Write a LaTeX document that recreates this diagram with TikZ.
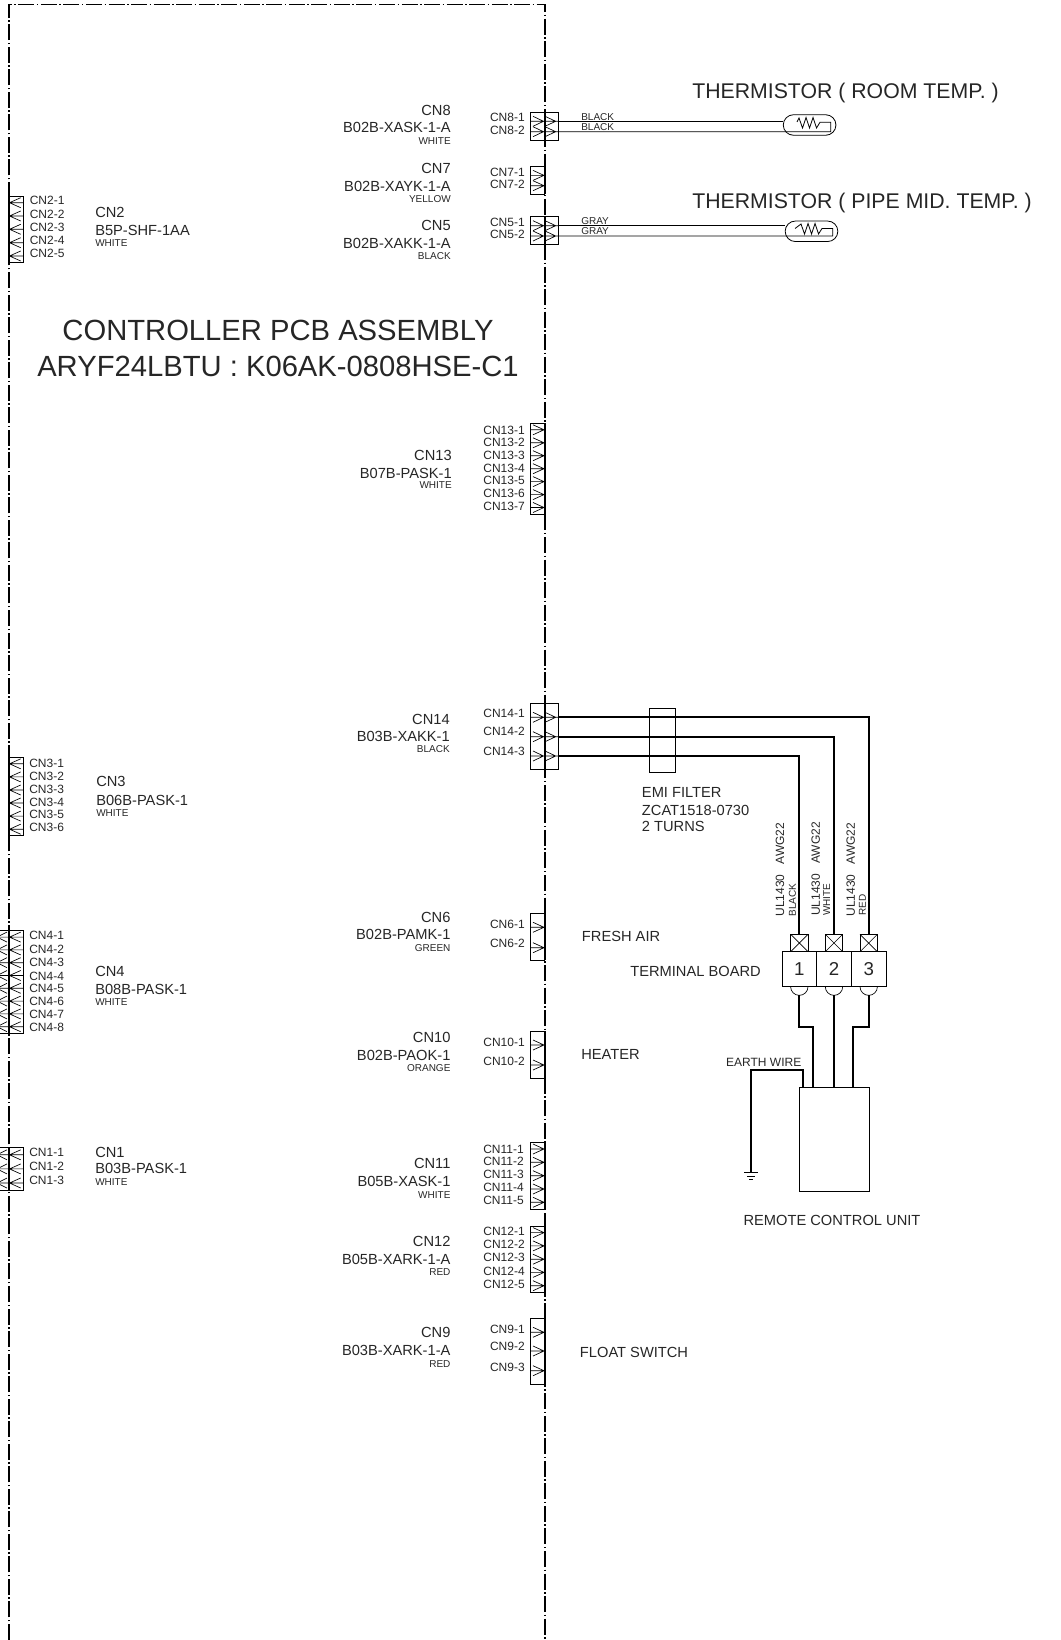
\documentclass[tikz,border=0pt]{standalone}
\usepackage{fontspec}
\setmainfont{Liberation Sans}

\begin{document}
\begin{tikzpicture}[
    x=0.75pt,y=-0.75pt,
    border/.style={line width=1.4pt, dash pattern=on 12pt off 1.9pt on 1.1pt off 1.9pt},
    solidborder/.style={line width=1.4pt},
    pin/.style={line width=0.5pt},
    wire/.style={line width=1.3pt},
    thinwire/.style={line width=0.6pt},
    bignote/.style={inner sep=0, text=black!85, font=\fontsize{21.9}{26}\selectfont},
    sensor/.style={inner sep=0, text=black!85, anchor=west, font=\fontsize{15.95}{19}\selectfont},
    lab/.style={inner sep=0, text=black!85, font=\fontsize{11}{13}\selectfont},
    pinlab/.style={inner sep=0, text=black!85, font=\fontsize{9}{11}\selectfont},
    tinylab/.style={inner sep=0, text=black!85, font=\fontsize{7.5}{9}\selectfont},
    filterbox/.style={draw, line width=0.5pt, inner sep=0, outer sep=0, minimum width=19.8pt, minimum height=47.8pt},
    termx/.style={draw, line width=0.5pt, inner sep=0, outer sep=0, minimum size=13pt},
    termcell/.style={draw, line width=0.5pt, inner sep=0, outer sep=0, text=black!85, minimum width=26pt, minimum height=26.2pt, font=\fontsize{14}{16}\selectfont},
    remotebox/.style={draw, line width=0.5pt, inner sep=0, outer sep=0, minimum width=52.3pt, minimum height=78.3pt},
    bead/.style={draw, line width=0.6pt, inner sep=0, outer sep=0, rounded corners=7.7pt, minimum width=39.5pt, minimum height=15.4pt}
    ]
    \clip (0, 0) rectangle (1060, 1640);
    % board outline
    \draw[border] (9, 1640) -- (9, 4.5) -- (545, 4.5) -- (545, 1640);
    \foreach \a/\b in {196/262.7, 757.3/835.7, 930.7/1033.3, 1147.7/1190}
      \draw[solidborder] (9, \a) -- (9, \b);
    \foreach \a/\b in {112.7/140.7, 166.7/194.3, 216.7/244.7, 423.3/514, 703.3/769.3, 913.3/960.3,
                       1031.3/1078.7, 1142.3/1209, 1226/1292.3, 1318.3/1384.3}
      \draw[solidborder] (545, \a) -- (545, \b);

    \node[bignote] (title1) at (278, 330.7) {CONTROLLER PCB ASSEMBLY};
    \node[bignote] (title2) at (278, 366) {ARYF24LBTU : K06AK-0808HSE-C1};

    % connector boxes on the right edge
    \draw[pin] (530.3, 112.7) rectangle (558.3, 140.7);
    \draw[pin] (530.3, 216.7) rectangle (558.3, 244.7);
    \draw[pin] (530.3, 703.3) rectangle (558.3, 769.3);
    \draw[pin] (545, 166.7) -| (530.3, 194.3) -- (545, 194.3);
    \draw[pin] (545, 423.3) -| (530.3, 514) -- (545, 514);
    \draw[pin] (545, 913.3) -| (530.3, 960.3) -- (545, 960.3);
    \draw[pin] (545, 1031.3) -| (530.3, 1078.7) -- (545, 1078.7);
    \draw[pin] (545, 1142.3) -| (530.3, 1209) -- (545, 1209);
    \draw[pin] (545, 1226) -| (530.3, 1292.3) -- (545, 1292.3);
    \draw[pin] (545, 1318.3) -| (530.3, 1384.3) -- (545, 1384.3);
    \foreach \y in {175.4, 185.7, 429.8, 442.8, 455.7, 468.7, 481.6, 494.6, 507.5, 927.3, 947.7, 1045, 1065,
                    1149, 1162.3, 1175.7, 1189, 1202.3, 1232.6, 1245.9, 1259.2, 1272.4, 1285.7, 1332.3, 1351, 1370.7}
      \draw[pin] (530.3, \y) -- (544, \y) (533, \y-5) -- (544, \y) -- (533, \y+5);
    \foreach \y in {121.3, 131.7, 225.7, 236, 717.3, 736.7, 756}
      \draw[pin] (530.3, \y) -- (558.3, \y) (533, \y-5) -- (543.5, \y) -- (533, \y+5)
                 (545, \y-5) -- (555.7, \y) -- (545, \y+5);

    % connector boxes on the left edge
    \draw[pin] (9, 196) -| (23.3, 262.7) -- (9, 262.7);
    \draw[pin] (9, 757.3) -| (23.3, 835.7) -- (9, 835.7);
    \draw[pin] (-1, 930.7) -| (23.3, 1033.3) -- (-1, 1033.3);
    \draw[pin] (-1, 1147.7) -| (23.3, 1190) -- (-1, 1190);
    \foreach \y in {202.7, 216, 229.3, 242.7, 256, 763.8, 776.9, 790, 803, 816.1, 829.2}
      \draw[pin] (23.3, \y) -- (9.5, \y) (20.7, \y-5) -- (9.5, \y) -- (20.7, \y+5);
    \foreach \y in {937.1, 949.9, 962.7, 975.5, 988.3, 1001.1, 1013.9, 1026.7, 1154.8, 1168.9, 1183}
      \draw[pin] (23.3, \y) -- (-1, \y) (20.7, \y-5) -- (9.5, \y) -- (20.7, \y+5)
                 (7, \y-5) -- (-3, \y) -- (7, \y+5);

    % pin labels
    \node[pinlab, anchor=east] (cn81) at (525, 117.7) {CN8-1};
    \node[pinlab, anchor=east] (cn82) at (525, 130) {CN8-2};
    \node[pinlab, anchor=east] (cn71) at (525, 172.3) {CN7-1};
    \node[pinlab, anchor=east] (cn72) at (525, 184.7) {CN7-2};
    \node[pinlab, anchor=east] (cn51) at (525, 222.7) {CN5-1};
    \node[pinlab, anchor=east] (cn52) at (525, 234.3) {CN5-2};
    \node[pinlab, anchor=east] (cn131) at (525, 430.7) {CN13-1};
    \node[pinlab, anchor=east] (cn132) at (525, 442.3) {CN13-2};
    \node[pinlab, anchor=east] (cn133) at (525, 455) {CN13-3};
    \node[pinlab, anchor=east] (cn134) at (525, 468.3) {CN13-4};
    \node[pinlab, anchor=east] (cn135) at (525, 480) {CN13-5};
    \node[pinlab, anchor=east] (cn136) at (525, 493) {CN13-6};
    \node[pinlab, anchor=east] (cn137) at (525, 506) {CN13-7};
    \node[pinlab, anchor=east] (cn141) at (525, 713.3) {CN14-1};
    \node[pinlab, anchor=east] (cn142) at (525, 731.7) {CN14-2};
    \node[pinlab, anchor=east] (cn143) at (525, 751.7) {CN14-3};
    \node[pinlab, anchor=east] (cn61) at (525, 924.7) {CN6-1};
    \node[pinlab, anchor=east] (cn62) at (525, 943.7) {CN6-2};
    \node[pinlab, anchor=east] (cn101) at (525, 1042.7) {CN10-1};
    \node[pinlab, anchor=east] (cn102) at (525, 1061.7) {CN10-2};
    \node[pinlab, anchor=east] (cn111) at (524, 1149) {CN11-1};
    \node[pinlab, anchor=east] (cn112) at (524, 1161.7) {CN11-2};
    \node[pinlab, anchor=east] (cn113) at (524, 1174.3) {CN11-3};
    \node[pinlab, anchor=east] (cn114) at (524, 1187.3) {CN11-4};
    \node[pinlab, anchor=east] (cn115) at (524, 1200.7) {CN11-5};
    \node[pinlab, anchor=east] (cn121) at (525, 1231) {CN12-1};
    \node[pinlab, anchor=east] (cn122) at (525, 1244.3) {CN12-2};
    \node[pinlab, anchor=east] (cn123) at (525, 1257.3) {CN12-3};
    \node[pinlab, anchor=east] (cn124) at (525, 1271) {CN12-4};
    \node[pinlab, anchor=east] (cn125) at (525, 1284.3) {CN12-5};
    \node[pinlab, anchor=east] (cn91) at (525, 1329) {CN9-1};
    \node[pinlab, anchor=east] (cn92) at (525, 1346.7) {CN9-2};
    \node[pinlab, anchor=east] (cn93) at (525, 1367.3) {CN9-3};
    \node[pinlab, anchor=west] (cn21) at (29.5, 200.7) {CN2-1};
    \node[pinlab, anchor=west] (cn22) at (29.5, 214.3) {CN2-2};
    \node[pinlab, anchor=west] (cn23) at (29.5, 227.3) {CN2-3};
    \node[pinlab, anchor=west] (cn24) at (29.5, 240.7) {CN2-4};
    \node[pinlab, anchor=west] (cn25) at (29.5, 253.3) {CN2-5};
    \node[pinlab, anchor=west] (cn31) at (29, 763.3) {CN3-1};
    \node[pinlab, anchor=west] (cn32) at (29, 776.7) {CN3-2};
    \node[pinlab, anchor=west] (cn33) at (29, 789.3) {CN3-3};
    \node[pinlab, anchor=west] (cn34) at (29, 802.3) {CN3-4};
    \node[pinlab, anchor=west] (cn35) at (29, 814.3) {CN3-5};
    \node[pinlab, anchor=west] (cn36) at (29, 827.3) {CN3-6};
    \node[pinlab, anchor=west] (cn41) at (29, 935.7) {CN4-1};
    \node[pinlab, anchor=west] (cn42) at (29, 949.7) {CN4-2};
    \node[pinlab, anchor=west] (cn43) at (29, 962.7) {CN4-3};
    \node[pinlab, anchor=west] (cn44) at (29, 976) {CN4-4};
    \node[pinlab, anchor=west] (cn45) at (29, 988) {CN4-5};
    \node[pinlab, anchor=west] (cn46) at (29, 1001.7) {CN4-6};
    \node[pinlab, anchor=west] (cn47) at (29, 1014.7) {CN4-7};
    \node[pinlab, anchor=west] (cn48) at (29, 1027.7) {CN4-8};
    \node[pinlab, anchor=west] (cn11) at (29, 1152.7) {CN1-1};
    \node[pinlab, anchor=west] (cn12) at (29, 1166.7) {CN1-2};
    \node[pinlab, anchor=west] (cn13) at (29, 1180) {CN1-3};

    % connector names
    \node[lab, anchor=east] (cn8name) at (451, 110) {CN8};
    \node[lab, anchor=east] (cn8part) at (451, 127.7) {B02B-XASK-1-A};
    \node[tinylab, anchor=east] (cn8col) at (451, 141) {WHITE};
    \node[lab, anchor=east] (cn7name) at (451, 168.5) {CN7};
    \node[lab, anchor=east] (cn7part) at (451, 186) {B02B-XAYK-1-A};
    \node[tinylab, anchor=east] (cn7col) at (451, 199) {YELLOW};
    \node[lab, anchor=east] (cn5name) at (451, 225) {CN5};
    \node[lab, anchor=east] (cn5part) at (451, 243) {B02B-XAKK-1-A};
    \node[tinylab, anchor=east] (cn5col) at (451, 256.4) {BLACK};
    \node[lab, anchor=east] (cn13name) at (452, 455) {CN13};
    \node[lab, anchor=east] (cn13part) at (452, 473) {B07B-PASK-1};
    \node[tinylab, anchor=east] (cn13col) at (452, 485.5) {WHITE};
    \node[lab, anchor=east] (cn14name) at (450, 719) {CN14};
    \node[lab, anchor=east] (cn14part) at (450, 736.7) {B03B-XAKK-1};
    \node[tinylab, anchor=east] (cn14col) at (450, 749.5) {BLACK};
    \node[lab, anchor=east] (cn6name) at (450.7, 917.7) {CN6};
    \node[lab, anchor=east] (cn6part) at (450.7, 934.7) {B02B-PAMK-1};
    \node[tinylab, anchor=east] (cn6col) at (450.7, 947.7) {GREEN};
    \node[lab, anchor=east] (cn10name) at (450.7, 1037.7) {CN10};
    \node[lab, anchor=east] (cn10part) at (450.7, 1055.7) {B02B-PAOK-1};
    \node[tinylab, anchor=east] (cn10col) at (450.7, 1068.3) {ORANGE};
    \node[lab, anchor=east] (cn11name) at (450.7, 1163.3) {CN11};
    \node[lab, anchor=east] (cn11part) at (450.7, 1181) {B05B-XASK-1};
    \node[tinylab, anchor=east] (cn11col) at (450.7, 1195) {WHITE};
    \node[lab, anchor=east] (cn12name) at (450.7, 1241.7) {CN12};
    \node[lab, anchor=east] (cn12part) at (450.7, 1259.3) {B05B-XARK-1-A};
    \node[tinylab, anchor=east] (cn12col) at (450.7, 1271.7) {RED};
    \node[lab, anchor=east] (cn9name) at (450.7, 1332.7) {CN9};
    \node[lab, anchor=east] (cn9part) at (450.7, 1350.7) {B03B-XARK-1-A};
    \node[tinylab, anchor=east] (cn9col) at (450.7, 1364) {RED};
    \node[lab, anchor=west] (cn2name) at (95, 212.7) {CN2};
    \node[lab, anchor=west] (cn2part) at (95, 230) {B5P-SHF-1AA};
    \node[tinylab, anchor=west] (cn2col) at (95, 242.7) {WHITE};
    \node[lab, anchor=west] (cn3name) at (96, 781.7) {CN3};
    \node[lab, anchor=west] (cn3part) at (96, 800.7) {B06B-PASK-1};
    \node[tinylab, anchor=west] (cn3col) at (96, 812.7) {WHITE};
    \node[lab, anchor=west] (cn4name) at (95, 971.7) {CN4};
    \node[lab, anchor=west] (cn4part) at (95, 989) {B08B-PASK-1};
    \node[tinylab, anchor=west] (cn4col) at (95, 1001.7) {WHITE};
    \node[lab, anchor=west] (cn1name) at (95, 1152) {CN1};
    \node[lab, anchor=west] (cn1part) at (95, 1168.3) {B03B-PASK-1};
    \node[tinylab, anchor=west] (cn1col) at (95, 1181.7) {WHITE};

    % thermistors
    \node[sensor] (room) at (692, 93) {THERMISTOR ( ROOM TEMP. )};
    \node[sensor] (pipe) at (692, 203) {THERMISTOR ( PIPE MID. TEMP. )};
    \node[bead] (bead1) at (809.6, 125) {};
    \node[bead] (bead2) at (811.5, 231.3) {};
    \coordinate (w81) at (558.3, 121.3);
    \coordinate (w82) at (558.3, 131.7);
    \coordinate (w51) at (558.3, 225.7);
    \coordinate (w52) at (558.3, 236);
    \coordinate (b11) at (783.3, 121.3);
    \coordinate (b12) at (830.7, 131.7);
    \coordinate (b21) at (785.3, 225.7);
    \coordinate (b22) at (832.7, 236);
    \draw[thinwire] (w81) -- (b11);
    \draw[thinwire] (w82) -- (b12) -- (830.7, 122.3) -- (820, 122.3) -- (816.5, 128) -- (813, 117.5)
        -- (809.5, 128) -- (806, 117.5) -- (802.5, 128) -- (799, 118) -- (797, 122);
    \draw[thinwire] (w51) -- (b21);
    \draw[thinwire] (w52) -- (b22) -- (832.7, 228.5) -- (822, 228.5) -- (818.5, 234) -- (815, 223.5)
        -- (811.5, 234) -- (808, 223.5) -- (804.5, 234) -- (801, 224) -- (795, 228.5);
    \node[tinylab, anchor=west] (lw81) at (581, 117.3) {BLACK};
    \node[tinylab, anchor=west] (lw82) at (581, 127.2) {BLACK};
    \node[tinylab, anchor=west] (lw51) at (581, 220.7) {GRAY};
    \node[tinylab, anchor=west] (lw52) at (581, 231.5) {GRAY};

    % remote control wiring
    \node[filterbox] (emi) at (662.5, 740.2) {};
    \node[lab, anchor=west] (emi1) at (641.7, 792.7) {EMI FILTER};
    \node[lab, anchor=west] (emi2) at (641.7, 810) {ZCAT1518-0730};
    \node[lab, anchor=west] (emi3) at (641.7, 826.7) {2 TURNS};
    \node[termcell] (term1) at (799.3, 969.2) {1};
    \node[termcell] (term2) at (834, 969.2) {2};
    \node[termcell] (term3) at (868.7, 969.2) {3};
    \node[termx] (x1) at (799.3, 943) {};
    \node[termx] (x2) at (834, 943) {};
    \node[termx] (x3) at (868.7, 943) {};
    \foreach \t in {x1, x2, x3}
      \draw[pin] (\t.north west) -- (\t.south east) (\t.north east) -- (\t.south west);
    \coordinate (w141) at (558.3, 717.3);
    \coordinate (w142) at (558.3, 736.7);
    \coordinate (w143) at (558.3, 756);
    \draw[wire] (w141) -| (x3.north);
    \draw[wire] (w142) -| (x2.north);
    \draw[wire] (w143) -| (x1.north);
    \foreach \t in {term1, term2, term3}
      \draw[pin] (\t.south) ++(-8.7, 0) arc[start angle=180, end angle=0, radius=8.7];
    \node[remotebox] (remote) at (834.15, 1139.5) {};
    \coordinate (hood1) at (799.3, 995.4);
    \coordinate (hood2) at (834, 995.4);
    \coordinate (hood3) at (868.7, 995.4);
    \coordinate (rc1) at (813.3, 1087.3);
    \coordinate (rc3) at (853.3, 1087.3);
    \coordinate (ew) at (803, 1087.3);
    \coordinate (gnd) at (750.7, 1172.7);
    \draw[wire] (hood1) -- (799.3, 1026.7) -| (rc1);
    \draw[wire] (hood2) -- (remote.north -| hood2);
    \draw[wire] (hood3) -- (868.7, 1026.7) -| (rc3);
    \draw[wire] (ew) -- ++(0, -17.3) -| (gnd);
    \draw[pin] (744, 1172.7) -- (757.7, 1172.7) (747, 1176) -- (755, 1176) (749, 1179.3) -- (752.5, 1179.3);

    \node[pinlab, rotate=90, anchor=west] (ul1) at (780, 916.7) {UL1430\ \ \ AWG22};
    \node[pinlab, rotate=90, anchor=west] (ul2) at (815.7, 916) {UL1430\ \ \ AWG22};
    \node[pinlab, rotate=90, anchor=west] (ul3) at (850.7, 916.7) {UL1430\ \ \ AWG22};
    \node[tinylab, rotate=90, anchor=west] (col1) at (792.3, 916.7) {BLACK};
    \node[tinylab, rotate=90, anchor=west] (col2) at (826.7, 916) {WHITE};
    \node[tinylab, rotate=90, anchor=west] (col3) at (862.3, 916) {RED};

    \node[lab, anchor=east] (board) at (761, 971) {TERMINAL BOARD};
    \node[pinlab, anchor=center] (earth) at (763.7, 1062.7) {EARTH WIRE};
    \node[lab] (unit) at (832, 1220.7) {REMOTE CONTROL UNIT};
    \node[lab, anchor=west] (fresh) at (581.7, 936) {FRESH AIR};
    \node[lab, anchor=west] (heater) at (581, 1054.8) {HEATER};
    \node[lab, anchor=west] (float) at (579.7, 1352) {FLOAT SWITCH};
  \end{tikzpicture}
\end{document}
